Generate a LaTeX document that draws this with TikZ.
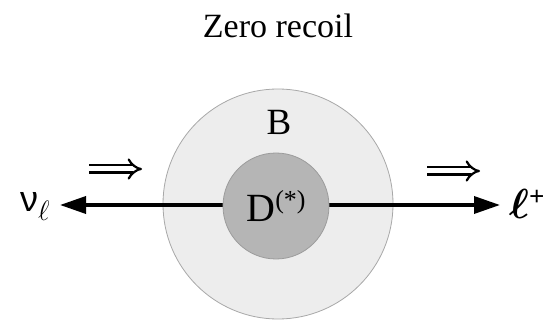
\RequirePackage{fix-cm}
\documentclass[tikz,border=0pt]{standalone}
\usepackage{amsmath,amssymb}
\usepackage{bm}
\usepackage{fontspec}
\setmainfont{Liberation Serif}
\setsansfont{Liberation Sans}
\usepackage{tikz}
\usetikzlibrary{arrows.meta,positioning}
\definecolor{outerfill}{HTML}{EDEDED}
\definecolor{outerline}{HTML}{A8A8A8}
\definecolor{innerfill}{HTML}{B5B5B5}
\definecolor{innerline}{HTML}{9C9C9C}
\tikzset{
  meson/.style={circle, draw=outerline, fill=outerfill, line width=0.8pt, minimum size=230pt, inner sep=0pt},
  core/.style={circle, draw=innerline, fill=innerfill, line width=0.8pt, minimum size=106pt, inner sep=0pt},
  lepton/.style={line width=3.5pt, -{Triangle[length=26pt,width=17pt]}},
  flow/.style={double, double distance=5pt, line width=2.2pt, -{Implies[length=11pt]}},
  every picture/.style={line cap=butt, line join=miter}
}

\begin{document}
\begin{tikzpicture}[x=1pt,y=-1pt]
    \useasboundingbox (0,0) rectangle (545,320);

    \node (title) at (278,26) {\fontsize{34}{40}\selectfont Zero recoil};

    \node[meson] (B) at (278,204) {};
    \node at (279,122) {\fontsize{37}{40}\selectfont B};

    \coordinate (tipL) at (60,205);
    \coordinate (tipR) at (500,205);
    \draw[lepton] (B.center |- tipL) -- (tipL);
    \draw[lepton] (B.center |- tipR) -- (tipR);

    \node[core] (D) at (276,206) {\fontsize{40}{44}\selectfont D\raisebox{13pt}{\fontsize{26}{28}\selectfont(*)}};

    \node (nu) at (35,206) {\fontsize{36}{40}\selectfont\sffamily ν\rmfamily\raisebox{-9pt}{\fontsize{28}{30}\selectfont$\ell$}};
    \node[anchor=west, inner sep=0pt] (lep) at (509,204) {\fontsize{42}{44}\selectfont$\bm{\ell}$\raisebox{13pt}{\fontsize{27}{30}\selectfont\bfseries +}};

    % momentum directions
    \coordinate (flowLa) at (89,169);
    \coordinate (flowLb) at (142,169);
    \coordinate (flowRa) at (427,171);
    \coordinate (flowRb) at (480,171);
    \draw[flow] (flowLa) -- (flowLb);
    \draw[flow] (flowRa) -- (flowRb);
  \end{tikzpicture}
\end{document}
